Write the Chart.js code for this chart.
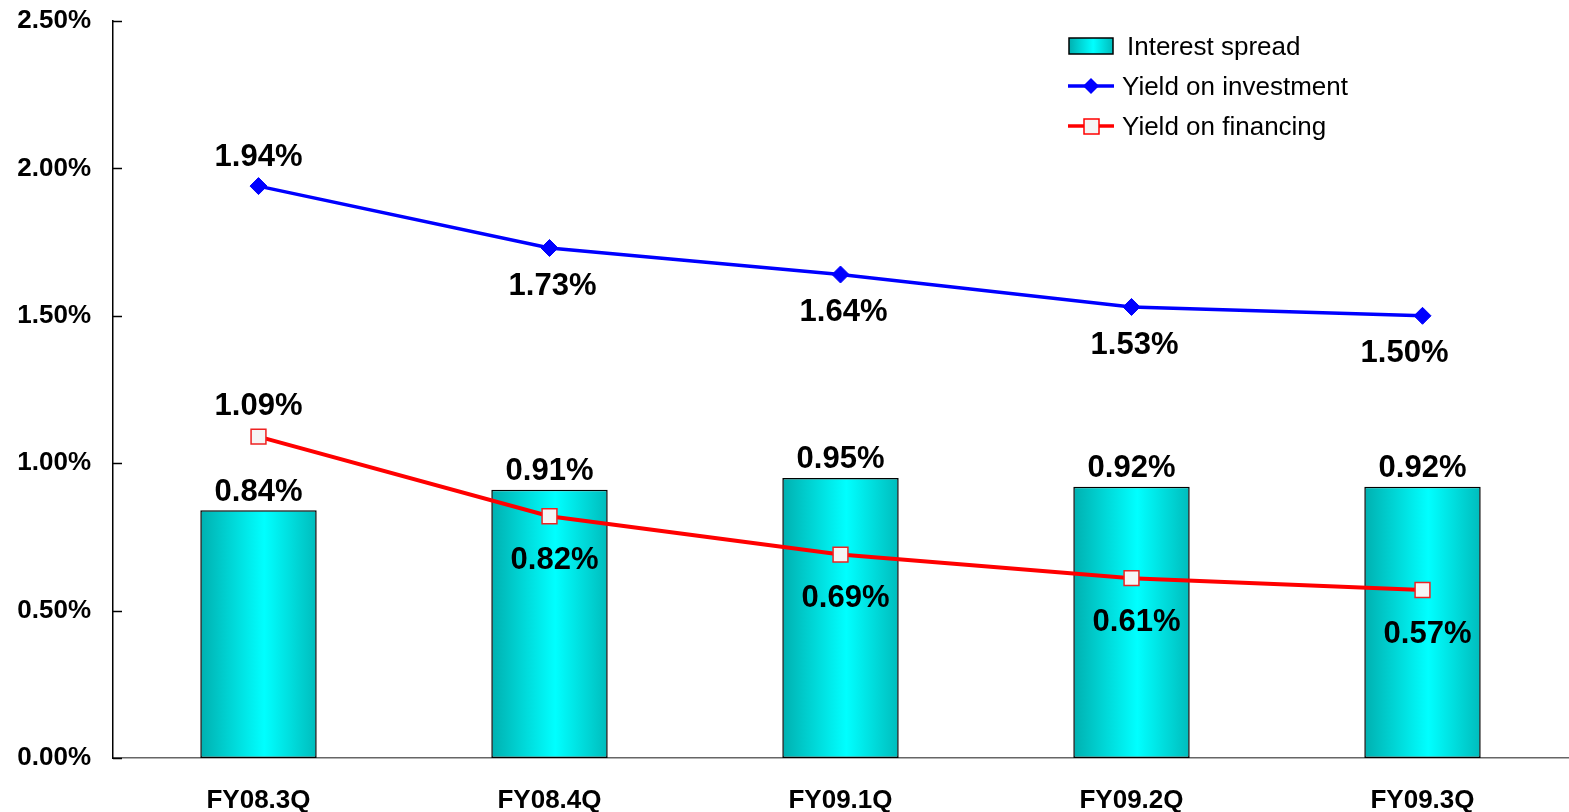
<!DOCTYPE html>
<html>
<head>
<meta charset="utf-8">
<script src="https://cdn.jsdelivr.net/npm/chart.js"></script>
<style>
  html, body { margin: 0; padding: 0; background: #fff; overflow: hidden; }
  #wrap { width: 1580px; height: 812px; }
</style>
</head>
<body>
<div id="wrap"><canvas id="chart" width="1580" height="812"></canvas></div>
<script>
// data
const quarters = ['FY08.3Q', 'FY08.4Q', 'FY09.1Q', 'FY09.2Q', 'FY09.3Q'];
const interestSpread = [0.84, 0.91, 0.95, 0.92, 0.92];
const yieldInvestment = [1.94, 1.73, 1.64, 1.53, 1.50];
const yieldFinancing = [1.09, 0.82, 0.69, 0.61, 0.57];
const yTicks = [0, 0.5, 1.0, 1.5, 2.0, 2.5];

const FONT = "Arial, 'Liberation Sans', sans-serif";

function barGradient(c) {
  const chart = c.chart;
  const xs = chart.scales.x;
  if (!chart.chartArea || !xs) return '#00e0e0';
  const cx = xs.getPixelForValue(c.dataIndex);
  const w = (xs.width / quarters.length) * 0.4;
  const g = chart.ctx.createLinearGradient(cx - w / 2, 0, cx + w / 2, 0);
  g.addColorStop(0, '#00b0b0');
  g.addColorStop(0.55, '#00ffff');
  g.addColorStop(1, '#00bcbc');
  return g;
}

// value labels next to bars and points
const valueLabels = {
  id: 'valueLabels',
  afterDatasetsDraw(chart) {
    const ctx = chart.ctx;
    ctx.save();
    ctx.font = 'bold 31px ' + FONT;
    ctx.fillStyle = '#000';
    ctx.textAlign = 'center';
    ctx.textBaseline = 'middle';
    chart.data.datasets.forEach((ds, di) => {
      const meta = chart.getDatasetMeta(di);
      meta.data.forEach((el, i) => {
        const txt = ds.data[i].toFixed(2) + '%';
        let x = el.x, y;
        if (ds.type === 'bar') {
          y = el.y - 18;
        } else if (di === 1) {
          y = i === 0 ? el.y - 29 : el.y + 38;
          if (i === 4) x -= 18;
          else if (i > 0) x += 3;
        } else {
          y = i === 0 ? el.y - 30 : el.y + 44;
          if (i > 0) x += 5;
        }
        ctx.fillText(txt, x, y);
      });
    });
    ctx.restore();
  }
};

// inside tick marks on the y axis + custom legend
const extras = {
  id: 'extras',
  afterDraw(chart) {
    const ctx = chart.ctx;
    const ys = chart.scales.y;
    const left = chart.chartArea.left;
    ctx.save();
    ctx.strokeStyle = '#000';
    ctx.lineWidth = 1.5;
    yTicks.forEach(v => {
      const y = Math.round(ys.getPixelForValue(v)) + 0.5;
      ctx.beginPath();
      ctx.moveTo(left, y);
      ctx.lineTo(left + 9, y);
      ctx.stroke();
    });

    // legend
    ctx.font = '26px ' + FONT;
    ctx.fillStyle = '#000';
    ctx.textBaseline = 'middle';
    ctx.textAlign = 'left';
    const ds = chart.data.datasets;

    // bar swatch
    const g = ctx.createLinearGradient(1069, 0, 1113, 0);
    g.addColorStop(0, '#00b0b0');
    g.addColorStop(0.55, '#00ffff');
    g.addColorStop(1, '#00bcbc');
    ctx.fillStyle = g;
    ctx.fillRect(1069, 38, 44, 16);
    ctx.strokeStyle = '#000';
    ctx.lineWidth = 1.5;
    ctx.strokeRect(1069, 38, 44, 16);
    ctx.fillStyle = '#000';
    ctx.fillText(ds[0].label, 1127, 48);

    // blue line
    ctx.strokeStyle = '#0000ff';
    ctx.lineWidth = 3.5;
    ctx.beginPath(); ctx.moveTo(1068, 86); ctx.lineTo(1114, 86); ctx.stroke();
    ctx.fillStyle = '#0000ff';
    ctx.beginPath();
    ctx.moveTo(1091, 78); ctx.lineTo(1099, 86); ctx.lineTo(1091, 94); ctx.lineTo(1083, 86);
    ctx.closePath(); ctx.fill();
    ctx.fillStyle = '#000';
    ctx.fillText(ds[1].label, 1122, 88);

    // red line
    ctx.strokeStyle = '#ff0000';
    ctx.lineWidth = 3.5;
    ctx.beginPath(); ctx.moveTo(1068, 126); ctx.lineTo(1114, 126); ctx.stroke();
    ctx.fillStyle = '#f5f5f5';
    ctx.fillRect(1084, 119, 15, 15);
    ctx.lineWidth = 1.5;
    ctx.strokeRect(1084, 119, 15, 15);
    ctx.fillStyle = '#000';
    ctx.fillText(ds[2].label, 1122, 128);
    ctx.restore();
  }
};

new Chart(document.getElementById('chart'), {
  data: {
    labels: quarters,
    datasets: [
      {
        type: 'bar',
        label: 'Interest spread',
        data: interestSpread,
        backgroundColor: barGradient,
        borderColor: '#000',
        borderWidth: 1.5,
        borderSkipped: false,
        barPercentage: 0.4,
        categoryPercentage: 1,
        order: 3
      },
      {
        type: 'line',
        label: 'Yield on investment',
        data: yieldInvestment,
        borderColor: '#0000ff',
        backgroundColor: '#0000ff',
        borderWidth: 3.5,
        pointStyle: 'rectRot',
        pointRadius: 8.5,
        pointBorderWidth: 1,
        tension: 0,
        order: 1
      },
      {
        type: 'line',
        label: 'Yield on financing',
        data: yieldFinancing,
        borderColor: '#ff0000',
        backgroundColor: '#f5f5f5',
        pointBorderColor: '#ee2222',
        borderWidth: 4,
        pointStyle: 'rect',
        pointRadius: 10.5,
        pointBorderWidth: 1.5,
        tension: 0,
        order: 2
      }
    ]
  },
  options: {
    responsive: false,
    animation: false,
    devicePixelRatio: 1,
    layout: { padding: { top: 21, right: 2, left: 0, bottom: 0 } },
    plugins: {
      legend: { display: false },
      tooltip: { enabled: false }
    },
    scales: {
      x: {
        afterFit(s) { s.height = 54; },
        grid: { display: false, drawTicks: false },
        border: { color: '#666', width: 1.5 },
        ticks: {
          padding: 27,
          color: '#000',
          font: { family: FONT, size: 26, weight: 'bold' }
        }
      },
      y: {
        min: 0,
        max: 2.5,
        afterFit(s) {
          s.width = 113;
          s.paddingTop = 0;
          s.paddingBottom = 0;
        },
        grid: { display: false, drawTicks: false },
        border: { color: '#000', width: 1.5 },
        ticks: {
          stepSize: 0.5,
          padding: 22,
          color: '#000',
          font: { family: FONT, size: 26, weight: 'bold' },
          callback: v => v.toFixed(2) + '%'
        }
      }
    }
  },
  plugins: [valueLabels, extras]
});
</script>
</body>
</html>
